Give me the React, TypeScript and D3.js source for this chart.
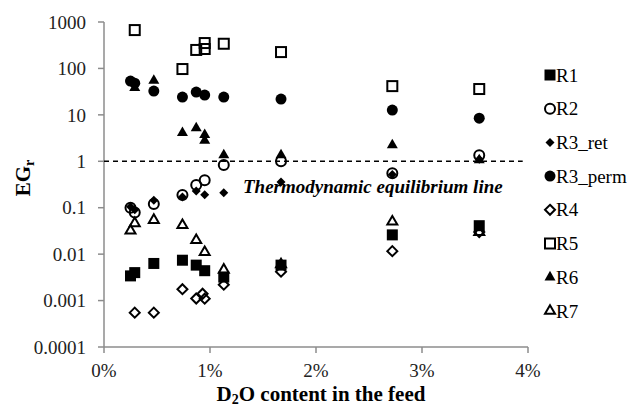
import React from "react";
import * as d3 from "d3";

// ---- data ----
const xTicks = [0, 1, 2, 3, 4];
const yTicks = [0.0001, 0.001, 0.01, 0.1, 1, 10, 100, 1000];
const yTickLabels = ["0.0001", "0.001", "0.01", "0.1", "1", "10", "100", "1000"];

const r1X = [0.25, 0.29, 0.47, 0.74, 0.87, 0.95, 1.13, 1.67, 2.72, 3.54];
const r1Y = [0.0034, 0.004, 0.0063, 0.0074, 0.0058, 0.0044, 0.0032, 0.0058, 0.026, 0.041];

const r2X = [0.25, 0.29, 0.47, 0.74, 0.87, 0.95, 1.13, 1.67, 2.72, 3.54];
const r2Y = [0.1, 0.079, 0.12, 0.187, 0.307, 0.39, 0.83, 1.0, 0.55, 1.35];

const r3retX = [0.25, 0.29, 0.47, 0.74, 0.87, 0.95, 1.13, 1.67, 2.72, 3.54];
const r3retY = [0.105, 0.09, 0.144, 0.17, 0.23, 0.19, 0.21, 0.36, 0.52, 1.1];

const r3permX = [0.25, 0.29, 0.47, 0.74, 0.87, 0.95, 1.13, 1.67, 2.72, 3.54];
const r3permY = [53.5, 48, 32.6, 24.2, 31, 26.7, 24.2, 21.9, 12.7, 8.5];

const r4X = [0.29, 0.47, 0.74, 0.87, 0.93, 0.95, 1.13, 1.67, 2.72, 3.54];
const r4Y = [0.00055, 0.00055, 0.00176, 0.00111, 0.0014, 0.0011, 0.0022, 0.0042, 0.0116, 0.03];

const r5X = [0.29, 0.74, 0.87, 0.95, 0.95, 1.13, 1.67, 2.72, 3.54];
const r5Y = [670, 97, 250, 352, 262, 340, 225, 41.6, 36];

const r6X = [0.29, 0.47, 0.74, 0.87, 0.95, 0.95, 1.13, 1.67, 2.72, 3.54];
const r6Y = [38, 55, 4.1, 5.2, 3.7, 2.8, 1.36, 1.36, 2.23, 1.06];

const r7X = [0.25, 0.29, 0.47, 0.74, 0.87, 0.95, 1.13, 1.67, 2.72, 3.54];
const r7Y = [0.032, 0.046, 0.054, 0.042, 0.02, 0.011, 0.0046, 0.006, 0.05, 0.03];

type Shape = "sqF" | "cirO" | "diaF" | "cirF" | "diaO" | "sqO" | "triF" | "triO";

const seriesNames = ["R1", "R2", "R3_ret", "R3_perm", "R4", "R5", "R6", "R7"];
const seriesShapes: Shape[] = ["sqF", "cirO", "diaF", "cirF", "diaO", "sqO", "triF", "triO"];
const seriesX = [r1X, r2X, r3retX, r3permX, r4X, r5X, r6X, r7X];
const seriesY = [r1Y, r2Y, r3retY, r3permY, r4Y, r5Y, r6Y, r7Y];

const W = 634;
const H = 409;
const FONT = "Liberation Serif, Times New Roman, serif";

function Marker({ shape, cx, cy }: { shape: Shape; cx: number; cy: number }) {
  switch (shape) {
    case "sqF":
      return <rect x={cx - 5.5} y={cy - 5.5} width={11} height={11} fill="#000" />;
    case "sqO":
      return <rect x={cx - 5} y={cy - 5} width={10} height={10} fill="none" stroke="#000" strokeWidth={2} />;
    case "cirF":
      return <circle cx={cx} cy={cy} r={5.5} fill="#000" />;
    case "cirO":
      return <circle cx={cx} cy={cy} r={5} fill="none" stroke="#000" strokeWidth={2} />;
    case "diaF":
      return <path d={`M${cx},${cy - 4.5}L${cx + 4.5},${cy}L${cx},${cy + 4.5}L${cx - 4.5},${cy}Z`} fill="#000" />;
    case "diaO":
      return (
        <path
          d={`M${cx},${cy - 5}L${cx + 5},${cy}L${cx},${cy + 5}L${cx - 5},${cy}Z`}
          fill="none"
          stroke="#000"
          strokeWidth={2}
        />
      );
    case "triF": {
      const s = 11, h = s * 0.866;
      return (
        <path
          d={`M${cx},${cy - (2 * h) / 3}L${cx + s / 2},${cy + h / 3}L${cx - s / 2},${cy + h / 3}Z`}
          fill="#000"
        />
      );
    }
    case "triO": {
      const s = 10, h = s * 0.866;
      return (
        <path
          d={`M${cx},${cy - (2 * h) / 3}L${cx + s / 2},${cy + h / 3}L${cx - s / 2},${cy + h / 3}Z`}
          fill="none"
          stroke="#000"
          strokeWidth={2}
          strokeLinejoin="miter"
        />
      );
    }
  }
  return null;
}

export default function App() {
  const x = d3.scaleLinear().domain([0, 4]).range([104, 528]);
  const y = d3.scaleLog().domain([0.0001, 1000]).range([347, 22]);
  const axisColor = "#8c8c8c";
  const legendY0 = 75;
  const legendStep = 33.7;

  return (
    <svg width={W} height={H} style={{ position: "absolute", left: 0, top: 0, background: "#fff" }}>
      <rect x={0} y={0} width={W} height={H} fill="#fff" />
      {/* axes */}
      <line x1={x(0)} x2={x(0)} y1={y(1000)} y2={y(0.0001)} stroke={axisColor} strokeWidth={1.5} />
      <line x1={x(0)} x2={x(4)} y1={y(0.0001)} y2={y(0.0001)} stroke={axisColor} strokeWidth={1.5} />
      {yTicks.map((t, i) => (
        <g key={"yt" + i}>
          <line x1={x(0) - 6} x2={x(0)} y1={y(t)} y2={y(t)} stroke={axisColor} strokeWidth={1.5} />
          <text
            x={86}
            y={y(t)}
            dy="0.35em"
            textAnchor="end"
            fontFamily={FONT}
            fontSize={19}
            fill="#222"
          >
            {yTickLabels[i]}
          </text>
        </g>
      ))}
      {xTicks.map((t, i) => (
        <g key={"xt" + i}>
          <line x1={x(t)} x2={x(t)} y1={y(0.0001)} y2={y(0.0001) + 6} stroke={axisColor} strokeWidth={1.5} />
          <text x={x(t)} y={377} textAnchor="middle" fontFamily={FONT} fontSize={19} fill="#222">
            {t + "%"}
          </text>
        </g>
      ))}
      {/* equilibrium line */}
      <line
        x1={x(0)}
        x2={x(3.95)}
        y1={y(1)}
        y2={y(1)}
        stroke="#000"
        strokeWidth={1.5}
        strokeDasharray="5,4"
      />
      <text x={243} y={193} fontFamily={FONT} fontSize={19} fontWeight="bold" fontStyle="italic" fill="#000">
        Thermodynamic equilibrium line
      </text>
      {/* data */}
      {seriesNames.map((n, si) => (
        <g key={n}>
          {seriesX[si].map((xv, i) => (
            <Marker key={i} shape={seriesShapes[si]} cx={x(xv)} cy={y(seriesY[si][i])} />
          ))}
        </g>
      ))}
      {/* legend */}
      {seriesNames.map((n, si) => (
        <g key={"lg" + n}>
          <Marker shape={seriesShapes[si]} cx={550} cy={legendY0 + si * legendStep} />
          <text
            x={556}
            y={legendY0 + si * legendStep}
            dy="0.35em"
            fontFamily={FONT}
            fontSize={19}
            fill="#000"
          >
            {n}
          </text>
        </g>
      ))}
      {/* axis titles */}
      <text x={321} y={401} textAnchor="middle" fontFamily={FONT} fontSize={21} fontWeight="bold" fill="#000">
        D<tspan fontSize={14} dy={3}>2</tspan>
        <tspan dy={-3}>O content in the feed</tspan>
      </text>
      <text
        transform={`translate(30,178) rotate(-90)`}
        textAnchor="middle"
        fontFamily={FONT}
        fontSize={21}
        fontWeight="bold"
        fill="#000"
      >
        EG<tspan fontSize={14} dy={4}>r</tspan>
      </text>
    </svg>
  );
}
